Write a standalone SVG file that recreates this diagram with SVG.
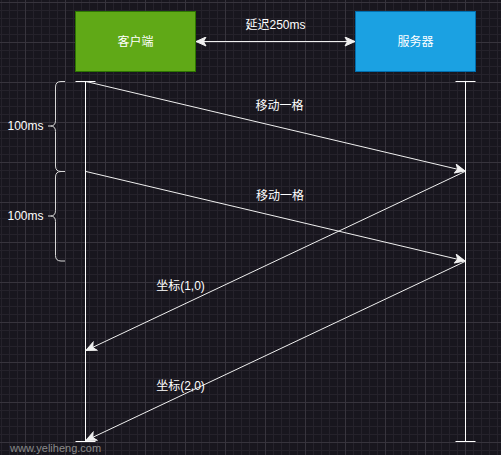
<svg xmlns="http://www.w3.org/2000/svg" width="501" height="455" viewBox="0 0 501 455">
<defs>
<pattern id="minor" x="1" y="2" width="8" height="8" patternUnits="userSpaceOnUse">
<path d="M0 0.5H8M0.5 0V8" stroke="#25222b" stroke-width="1" fill="none"/>
</pattern>
<pattern id="major" x="25" y="2" width="40" height="40" patternUnits="userSpaceOnUse">
<path d="M0 0.5H40M0.5 0V40" stroke="#37343d" stroke-width="1" fill="none"/>
</pattern>
<marker id="arr" viewBox="0 0 12 10" refX="11" refY="5" markerWidth="12" markerHeight="10" markerUnits="userSpaceOnUse" orient="auto-start-reverse">
<path d="M1 0.5L11 5L1 9.5L3.5 5Z" fill="#f0f0f0" stroke="#f0f0f0" stroke-width="1"/>
</marker>
<style>
.lbl{font-family:"Liberation Sans","Noto Sans CJK SC",sans-serif;font-size:12px;fill:#ffffff;text-anchor:middle;dominant-baseline:central}
.msg{stroke:#f0f0f0;stroke-width:1;fill:none}
.life{stroke:#ffffff;stroke-width:1;fill:none}
.brace{stroke:#d8d8d8;stroke-width:1;fill:none}
</style>
</defs>
<rect width="501" height="455" fill="#18161e"/>
<rect width="501" height="455" fill="url(#minor)"/>
<rect width="501" height="455" fill="url(#major)"/>

<g id="client">
<rect x="75.5" y="11.5" width="120" height="60" fill="#60a917" stroke="#2d7600"/>
<text class="lbl" x="135.5" y="41.5">客户端</text>
</g>
<g id="server">
<rect x="355.5" y="11.5" width="120" height="60" fill="#1ba1e2" stroke="#006eaf"/>
<text class="lbl" x="415.5" y="41.5">服务器</text>
</g>
<g id="client-lifeline">
<path class="life" d="M75.5 81.5H95.5M85.5 81.5V441.5M75.5 441.5H95.5"/>
</g>
<g id="server-lifeline">
<path class="life" d="M455.5 81.5H475.5M465.5 81.5V441.5M455.5 441.5H475.5"/>
</g>
<g id="brace1">
<path class="brace" d="M65 81.5H61Q55.5 81.5 55.5 87V120.5Q55.5 126 50.5 126H48M50.5 126Q55.5 126 55.5 131.5V166Q55.5 171.5 61 171.5H65"/>
<text class="lbl" x="25.5" y="126">100ms</text>
</g>
<g id="brace2">
<path class="brace" d="M65 171.5H61Q55.5 171.5 55.5 177V210.5Q55.5 216 50.5 216H48M50.5 216Q55.5 216 55.5 221.5V255.5Q55.5 261 61 261H65"/>
<text class="lbl" x="25.5" y="216">100ms</text>
</g>

<g id="connectors">
<line class="msg" x1="196" y1="41.5" x2="355" y2="41.5" marker-start="url(#arr)" marker-end="url(#arr)"/>
<line class="msg" x1="86" y1="81.5" x2="465" y2="171" marker-end="url(#arr)"/>
<line class="msg" x1="86" y1="171.5" x2="465" y2="261" marker-end="url(#arr)"/>
<line class="msg" x1="465" y1="171.5" x2="86" y2="350.5" marker-end="url(#arr)"/>
<line class="msg" x1="465" y1="261.5" x2="86" y2="440.5" marker-end="url(#arr)"/>
</g>
<g id="labels">
<text class="lbl" x="275.5" y="25">延迟250ms</text>
<text class="lbl" x="279.5" y="106">移动一格</text>
<text class="lbl" x="280" y="196">移动一格</text>
<text class="lbl" x="180.5" y="286">坐标(1,0)</text>
<text class="lbl" x="180.5" y="386">坐标(2,0)</text>
</g>
<text x="10" y="448" font-family="Liberation Sans, sans-serif" font-size="11" fill="#8a8a8a" dominant-baseline="central">www.yeliheng.com</text>
</svg>
